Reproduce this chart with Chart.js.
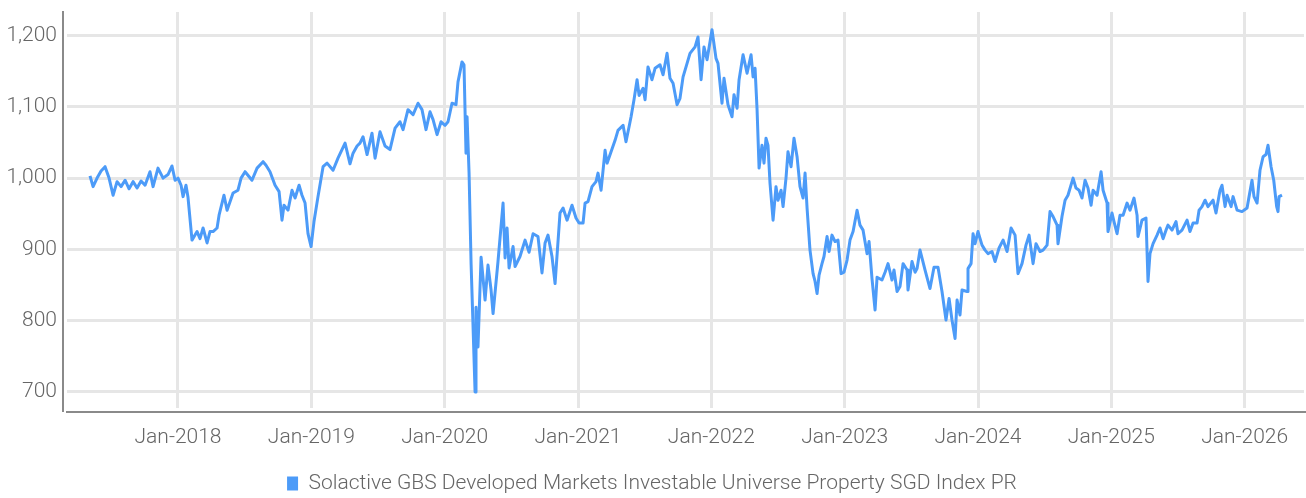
<!DOCTYPE html>
<html lang="en">
<head>
  <meta charset="UTF-8">
  <title>Solactive GBS Developed Markets Investable Universe Property SGD Index PR</title>
  <script src="https://cdn.jsdelivr.net/npm/chart.js"></script>
  <style>
    html, body { margin: 0; padding: 0; background: #fff; }
    .wrap { width: 1306px; height: 498px; }
  </style>
</head>
<body>
  <div class="wrap"><canvas id="idx-chart" width="1306" height="498"></canvas></div>

  <script>
    // index level (x = decimal year)
    const seriesName = 'Solactive GBS Developed Markets Investable Universe Property SGD Index PR';
    const years = [
      2017.340, 2017.363, 2017.393, 2017.423, 2017.453, 2017.483, 2017.513, 2017.543, 2017.573, 2017.603,
      2017.633, 2017.663, 2017.693, 2017.723, 2017.753, 2017.790, 2017.813, 2017.850, 2017.888, 2017.925,
      2017.955, 2017.978, 2018.000, 2018.023, 2018.038, 2018.060, 2018.075, 2018.105, 2018.143, 2018.165,
      2018.188, 2018.218, 2018.240, 2018.263, 2018.293, 2018.308, 2018.345, 2018.368, 2018.413, 2018.450,
      2018.473, 2018.503, 2018.555, 2018.593, 2018.638, 2018.660, 2018.690, 2018.728, 2018.758, 2018.780,
      2018.795, 2018.825, 2018.855, 2018.878, 2018.908, 2018.930, 2018.953, 2018.975, 2018.998, 2019.020,
      2019.050, 2019.088, 2019.118, 2019.163, 2019.200, 2019.253, 2019.290, 2019.313, 2019.343, 2019.365,
      2019.388, 2019.418, 2019.455, 2019.478, 2019.515, 2019.553, 2019.590, 2019.628, 2019.665, 2019.688,
      2019.725, 2019.763, 2019.800, 2019.830, 2019.860, 2019.890, 2019.913, 2019.943, 2019.973, 2020.003,
      2020.025, 2020.055, 2020.085, 2020.100, 2020.130, 2020.145, 2020.160, 2020.168, 2020.183, 2020.198,
      2020.213, 2020.228, 2020.235, 2020.250, 2020.273, 2020.303, 2020.325, 2020.348, 2020.363, 2020.400,
      2020.438, 2020.453, 2020.468, 2020.483, 2020.513, 2020.528, 2020.565, 2020.603, 2020.633, 2020.663,
      2020.700, 2020.730, 2020.753, 2020.775, 2020.805, 2020.828, 2020.865, 2020.888, 2020.918, 2020.955,
      2020.985, 2021.008, 2021.038, 2021.053, 2021.075, 2021.105, 2021.135, 2021.150, 2021.173, 2021.203,
      2021.218, 2021.248, 2021.278, 2021.300, 2021.338, 2021.360, 2021.383, 2021.398, 2021.420, 2021.443,
      2021.458, 2021.488, 2021.503, 2021.525, 2021.555, 2021.578, 2021.615, 2021.638, 2021.668, 2021.690,
      2021.713, 2021.743, 2021.765, 2021.788, 2021.818, 2021.840, 2021.878, 2021.900, 2021.923, 2021.945,
      2021.968, 2022.005, 2022.035, 2022.050, 2022.080, 2022.095, 2022.125, 2022.155, 2022.170, 2022.193,
      2022.208, 2022.238, 2022.268, 2022.298, 2022.313, 2022.328, 2022.343, 2022.358, 2022.380, 2022.395,
      2022.410, 2022.425, 2022.440, 2022.463, 2022.485, 2022.500, 2022.523, 2022.538, 2022.560, 2022.575,
      2022.598, 2022.620, 2022.643, 2022.665, 2022.688, 2022.703, 2022.718, 2022.740, 2022.763, 2022.778,
      2022.793, 2022.808, 2022.830, 2022.845, 2022.868, 2022.883, 2022.905, 2022.928, 2022.950, 2022.973,
      2022.995, 2023.018, 2023.040, 2023.063, 2023.093, 2023.115, 2023.138, 2023.168, 2023.183, 2023.205,
      2023.228, 2023.243, 2023.280, 2023.303, 2023.325, 2023.355, 2023.370, 2023.393, 2023.415, 2023.438,
      2023.468, 2023.475, 2023.505, 2023.528, 2023.543, 2023.565, 2023.603, 2023.640, 2023.670, 2023.700,
      2023.730, 2023.760, 2023.783, 2023.805, 2023.828, 2023.843, 2023.865, 2023.880, 2023.918, 2023.925,
      2023.948, 2023.963, 2023.978, 2024.000, 2024.030, 2024.053, 2024.075, 2024.105, 2024.128, 2024.158,
      2024.188, 2024.218, 2024.248, 2024.278, 2024.300, 2024.330, 2024.360, 2024.383, 2024.413, 2024.435,
      2024.465, 2024.488, 2024.518, 2024.540, 2024.563, 2024.593, 2024.600, 2024.630, 2024.653, 2024.675,
      2024.713, 2024.735, 2024.758, 2024.780, 2024.803, 2024.825, 2024.848, 2024.863, 2024.893, 2024.923,
      2024.938, 2024.968, 2024.975, 2025.005, 2025.020, 2025.043, 2025.065, 2025.088, 2025.118, 2025.140,
      2025.170, 2025.193, 2025.200, 2025.230, 2025.260, 2025.275, 2025.290, 2025.313, 2025.343, 2025.365,
      2025.388, 2025.410, 2025.425, 2025.455, 2025.485, 2025.500, 2025.530, 2025.568, 2025.590, 2025.613,
      2025.643, 2025.658, 2025.680, 2025.703, 2025.725, 2025.763, 2025.785, 2025.815, 2025.830, 2025.853,
      2025.868, 2025.898, 2025.913, 2025.943, 2025.980, 2026.018, 2026.033, 2026.055, 2026.070, 2026.093,
      2026.115, 2026.138, 2026.160, 2026.175, 2026.198, 2026.218, 2026.240, 2026.250, 2026.258, 2026.280
    ];
    const values = [
      1003, 988, 1000, 1010, 1016, 1000, 976, 995, 988, 997,
      985, 995, 986, 996, 990, 1009, 988, 1014, 1000, 1005,
      1017, 997, 1000, 990, 974, 990, 973, 913, 925, 915,
      930, 909, 925, 925, 930, 948, 976, 955, 979, 983,
      1000, 1009, 997, 1014, 1023, 1018, 1009, 990, 981, 941,
      962, 955, 983, 972, 990, 976, 965, 922, 904, 939,
      974, 1016, 1021, 1011, 1028, 1049, 1020, 1035, 1045, 1049,
      1058, 1033, 1063, 1028, 1065, 1045, 1040, 1070, 1079, 1068,
      1096, 1089, 1105, 1096, 1068, 1093, 1082, 1061, 1079, 1074,
      1079, 1105, 1103, 1135, 1163, 1159, 1035, 1086, 1007, 881,
      791, 700, 819, 763, 889, 829, 878, 843, 810, 883,
      965, 888, 930, 874, 904, 876, 890, 913, 896, 922,
      918, 867, 909, 920, 890, 852, 951, 958, 941, 962,
      944, 937, 937, 965, 967, 988, 995, 1007, 983, 1039,
      1021, 1037, 1053, 1067, 1074, 1051, 1072, 1086, 1110, 1138,
      1116, 1126, 1110, 1156, 1138, 1154, 1159, 1145, 1175, 1140,
      1133, 1103, 1112, 1142, 1161, 1175, 1184, 1198, 1138, 1184,
      1166, 1208, 1168, 1161, 1105, 1140, 1103, 1086, 1117, 1098,
      1138, 1173, 1147, 1173, 1142, 1154, 1096, 1014, 1046, 1021,
      1056, 1046, 993, 941, 988, 969, 983, 960, 1000, 1037,
      1016, 1056, 1030, 988, 972, 1007, 958, 899, 866, 855,
      838, 864, 880, 890, 918, 897, 920, 911, 913, 866,
      868, 885, 913, 925, 955, 934, 927, 894, 911, 859,
      815, 861, 857, 868, 880, 857, 871, 841, 848, 880,
      871, 843, 883, 868, 873, 899, 871, 845, 875, 875,
      841, 801, 831, 801, 775, 829, 808, 843, 841, 873,
      880, 922, 908, 925, 906, 899, 894, 897, 883, 902,
      913, 897, 930, 920, 866, 880, 906, 920, 880, 908,
      897, 899, 906, 953, 946, 934, 908, 946, 969, 976,
      1000, 986, 983, 972, 997, 986, 962, 983, 976, 1009,
      983, 965, 925, 951, 939, 922, 948, 948, 965, 955,
      972, 948, 918, 941, 944, 855, 894, 908, 920, 930,
      915, 927, 934, 927, 939, 922, 927, 941, 925, 937,
      937, 955, 960, 969, 960, 969, 951, 983, 990, 960,
      976, 960, 974, 955, 953, 958, 974, 997, 974, 965,
      1011, 1030, 1033, 1046, 1016, 997, 960, 953, 974, 976
    ];
    const tickYears = [2018, 2019, 2020, 2021, 2022, 2023, 2024, 2025, 2026];
    const yTicks = [700, 800, 900, 1000, 1100, 1200];

    const lineColor = '#4C9BF8';
    const textColor = '#666666';
    const fontFamily = "Roboto, 'DejaVu Sans Condensed', sans-serif";

    // axis lines sit a few px outside the plot area, like the original
    const axisLines = {
      id: 'axisLines',
      afterDraw(chart) {
        const a = chart.chartArea;
        const ctx = chart.ctx;
        ctx.save();
        ctx.strokeStyle = '#8a8a8a';
        ctx.lineWidth = 2;
        ctx.beginPath();
        ctx.moveTo(a.left - 4, a.top - 1);
        ctx.lineTo(a.left - 4, a.bottom + 4);
        ctx.moveTo(a.left - 1, a.bottom + 4);
        ctx.lineTo(chart.width, a.bottom + 4);
        ctx.stroke();
        ctx.restore();
      }
    };

    const ctx = document.getElementById('idx-chart').getContext('2d');
    new Chart(ctx, {
      type: 'line',
      data: {
        datasets: [{
          label: seriesName,
          data: years.map((x, i) => ({ x: x, y: values[i] })),
          borderColor: lineColor,
          backgroundColor: lineColor,
          borderWidth: 3,
          pointRadius: 0,
          tension: 0,
          borderJoinStyle: 'round'
        }]
      },
      options: {
        responsive: false,
        animation: false,
        layout: { padding: { top: 12, right: 2, left: 0, bottom: -6 } },
        scales: {
          x: {
            type: 'linear',
            min: 2017.1675,
            max: 2026.445,
            afterBuildTicks: s => { s.ticks = tickYears.map(v => ({ value: v })); },
            afterFit: s => { s.height = 55; s.paddingLeft = 0; s.paddingRight = 0; },
            grid: { color: '#e6e6e6', lineWidth: 3, drawTicks: false },
            border: { display: false },
            ticks: {
              padding: 17,
              color: textColor,
              font: { family: fontFamily, size: 21, weight: 300 },
              maxRotation: 0,
              callback: v => 'Jan-' + v
            }
          },
          y: {
            min: 677.5,
            max: 1233,
            afterBuildTicks: s => { s.ticks = yTicks.map(v => ({ value: v })); },
            afterFit: s => { s.width = 67; s.paddingTop = 0; s.paddingBottom = 0; },
            grid: { color: '#e6e6e6', lineWidth: 3, drawTicks: false },
            border: { display: false },
            ticks: {
              padding: 10,
              color: textColor,
              font: { family: fontFamily, size: 21, weight: 300 },
              callback: v => v.toLocaleString('en-US')
            }
          }
        },
        plugins: {
          tooltip: { enabled: false },
          legend: {
            position: 'bottom',
            labels: {
              color: textColor,
              font: { family: fontFamily, size: 21, weight: 300 },
              boxWidth: 11,
              boxHeight: 14,
              generateLabels: chart => {
                const items = Chart.defaults.plugins.legend.labels.generateLabels(chart);
                items.forEach(it => { it.lineWidth = 0; it.fillStyle = lineColor; });
                return items;
              }
            }
          }
        }
      },
      plugins: [axisLines]
    });
  </script>
</body>
</html>
